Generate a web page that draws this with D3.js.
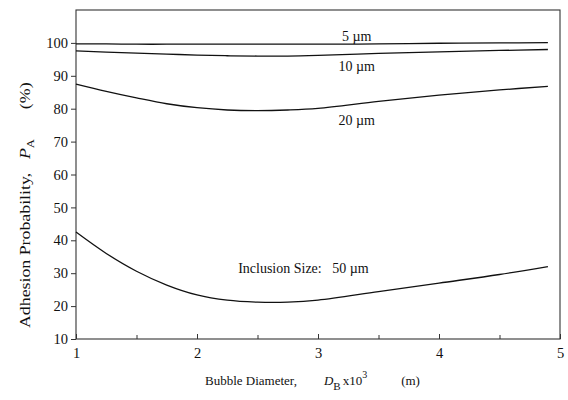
<!DOCTYPE html>
<html>
<head>
<meta charset="utf-8">
<script src="https://cdn.jsdelivr.net/npm/d3@7"></script>
<style>
  html, body { margin: 0; padding: 0; background: #fff; }
  svg { display: block; }
  text { font-family: "Liberation Serif", "DejaVu Serif", serif; fill: #111; }
</style>
</head>
<body>
<svg id="chart" width="568" height="400"></svg>
<script>
// Bubble diameter (x10^3 m) sampled along each curve
const diameter = [1, 1.25, 1.5, 1.75, 2, 2.25, 2.5, 2.75, 3, 3.5, 4, 4.5, 4.9];

// Adhesion probability P_A (%) for each inclusion size
const size5um  = [99.7, 99.7, 99.6, 99.6, 99.6, 99.6, 99.6, 99.6, 99.6, 99.7, 99.9, 100.0, 100.1];
const size10um = [97.6, 97.2, 96.9, 96.6, 96.3, 96.1, 96.0, 96.0, 96.2, 96.8, 97.3, 97.7, 98.0];
const size20um = [87.5, 85.3, 83.3, 81.5, 80.3, 79.6, 79.4, 79.6, 80.1, 82.2, 84.1, 85.7, 86.8];
const size50um = [42.5, 36.0, 30.6, 26.4, 23.4, 21.8, 21.2, 21.2, 21.8, 24.4, 27.0, 29.6, 32.0];

const seriesLabels = ["5 \u00b5m", "10 \u00b5m", "20 \u00b5m", "Inclusion Size:   50 \u00b5m"];

const xTicks = [1, 2, 3, 4, 5];
const xMinorTicks = [1.5, 2.5, 3.5, 4.5];
const yTicks = [10, 20, 30, 40, 50, 60, 70, 80, 90, 100];

const svg = d3.select("#chart");
const plotLeft = 76, plotRight = 560, plotTop = 10, plotBottom = 339;

const x = d3.scaleLinear().domain([1, 5]).range([plotLeft, plotRight]);
const y = d3.scaleLinear().domain([10, 110]).range([plotBottom, plotTop]);

// frame
svg.append("rect")
  .attr("x", plotLeft).attr("y", plotTop)
  .attr("width", plotRight - plotLeft).attr("height", plotBottom - plotTop)
  .attr("fill", "none").attr("stroke", "#333").attr("stroke-width", 1.1);

// y axis: outward ticks with labels
const yAxis = d3.axisLeft(y).tickValues(yTicks).tickSize(5).tickPadding(3);
const gy = svg.append("g").attr("transform", `translate(${plotLeft},0)`).call(yAxis);
gy.select(".domain").remove();
gy.selectAll("line").attr("stroke", "#333");
gy.selectAll("text").style("font-size", "14.5px").style("font-family", "Liberation Serif, serif").attr("fill", "#111");

// x axis: inward ticks, labels below
const xAxis = d3.axisBottom(x).tickValues(xTicks).tickSize(-5).tickPadding(9).tickFormat(d3.format("d"));
const gx = svg.append("g").attr("transform", `translate(0,${plotBottom})`).call(xAxis);
gx.select(".domain").remove();
gx.selectAll("line").attr("stroke", "#333");
gx.selectAll("text").style("font-size", "14.5px").style("font-family", "Liberation Serif, serif").attr("fill", "#111");

const gxm = svg.append("g").attr("transform", `translate(0,${plotBottom})`)
  .call(d3.axisBottom(x).tickValues(xMinorTicks).tickSize(-4).tickFormat(""));
gxm.select(".domain").remove();
gxm.selectAll("line").attr("stroke", "#333");

// curves
const line = d3.line()
  .x((d, i) => x(diameter[i]))
  .y(d => y(d))
  .curve(d3.curveCatmullRom.alpha(0.5));

[size5um, size10um, size20um, size50um].forEach(vals => {
  svg.append("path")
    .attr("d", line(vals))
    .attr("fill", "none")
    .attr("stroke", "#111")
    .attr("stroke-width", 1.3);
});

// curve labels
const labelPos = [
  { xv: 3.32, yv: 100.7, anchor: "middle" },
  { xv: 3.32, yv: 91.6, anchor: "middle" },
  { xv: 3.32, yv: 74.9, anchor: "middle" },
  { xv: 2.34, yv: 30.2, anchor: "start" }
];
seriesLabels.forEach((t, i) => {
  const p = labelPos[i];
  svg.append("text")
    .attr("x", x(p.xv)).attr("y", y(p.yv))
    .attr("text-anchor", p.anchor)
    .style("font-size", "14px")
    .style("white-space", "pre")
    .attr("xml:space", "preserve")
    .text(t);
});

// x axis title
const xt = svg.append("text")
  .attr("x", 205).attr("y", 385)
  .style("font-size", "13px")
  .attr("xml:space", "preserve");
xt.append("tspan").text("Bubble Diameter,");
xt.append("tspan").attr("dx", 27).style("font-style", "italic").text("D");
xt.append("tspan").attr("dy", 5).style("font-size", "11px").text("B");
xt.append("tspan").attr("dy", -5).attr("dx", 2).text("x10");
xt.append("tspan").attr("dy", -7).style("font-size", "10px").text("3");
xt.append("tspan").attr("dy", 7).attr("dx", 34).text("(m)");

// y axis title, stretched along its reading direction
const yt = svg.append("text")
  .attr("transform", "translate(30,328) rotate(-90) scale(1.15,1)")
  .style("font-size", "15.5px")
  .attr("xml:space", "preserve");
yt.append("tspan").text("Adhesion Probability,");
yt.append("tspan").attr("dx", 12).style("font-style", "italic").text("P");
yt.append("tspan").attr("dy", 4).style("font-size", "11px").text("A");
yt.append("tspan").attr("dy", -4).attr("dx", 26).text("(%)");
</script>
</body>
</html>
